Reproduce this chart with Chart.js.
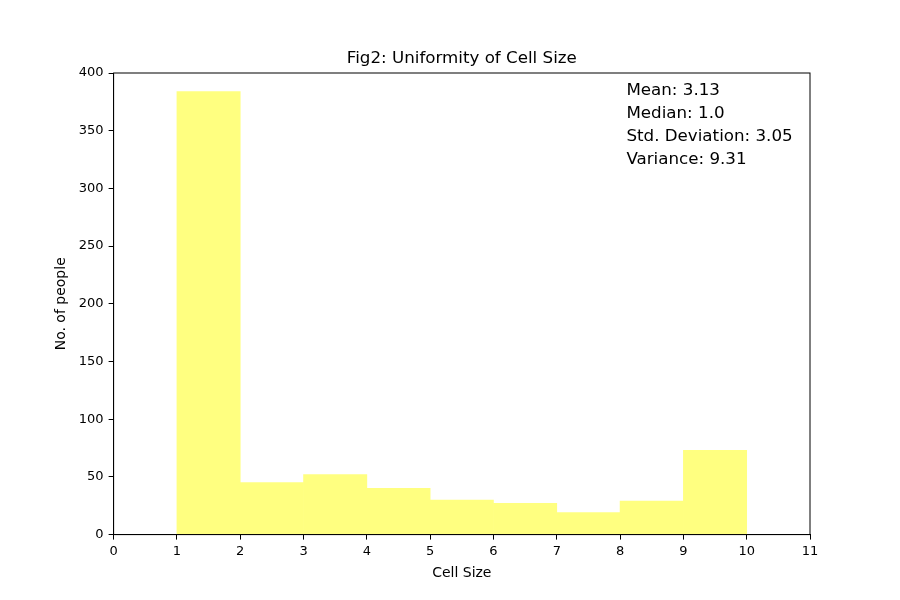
<!DOCTYPE html>
<html lang="en">
<head>
    <meta charset="UTF-8">
    <title>Fig2: Uniformity of Cell Size</title>
    <script src="https://cdn.jsdelivr.net/npm/chart.js"></script>
    <style>
        body { margin: 0; background: #fff; }
        .chart-container { width: 900px; height: 600px; }
    </style>
</head>
<body>
    <div class="chart-container">
        <canvas id="histChart" width="900" height="600"></canvas>
    </div>

    <script>
        // histogram bins (left edges) and counts
        const binStarts = [1, 2, 3, 4, 5, 6, 7, 8, 9];
        const binCounts = [384, 45, 52, 40, 30, 27, 19, 29, 73];
        const xTicks = [0, 1, 2, 3, 4, 5, 6, 7, 8, 9, 10, 11];
        const yTicks = [0, 50, 100, 150, 200, 250, 300, 350, 400];
        const statLines = ['Mean: 3.13', 'Median: 1.0', 'Std. Deviation: 3.05', 'Variance: 9.31'];
        const chartTitle = 'Fig2: Uniformity of Cell Size';

        Chart.defaults.font.family = '"DejaVu Sans", sans-serif';
        Chart.defaults.color = '#000';

        // frame around the plot area, title centred over it, stats text
        const framePlugin = {
            id: 'frame',
            afterDraw(chart) {
                const { ctx, chartArea, scales } = chart;
                ctx.save();
                ctx.strokeStyle = '#000';
                ctx.lineWidth = 1;
                ctx.strokeRect(chartArea.left, chartArea.top,
                    chartArea.right - chartArea.left, chartArea.bottom - chartArea.top);

                ctx.fillStyle = '#000';
                ctx.font = '16.7px "DejaVu Sans", sans-serif';
                ctx.textAlign = 'center';
                ctx.textBaseline = 'middle';
                ctx.fillText(chartTitle, (chartArea.left + chartArea.right) / 2, chartArea.top - 14);

                ctx.textAlign = 'left';
                const x = scales.x.getPixelForValue(8.1);
                const y0 = scales.y.getPixelForValue(385);
                statLines.forEach((t, i) => ctx.fillText(t, x, y0 + i * 23));
                ctx.restore();
            }
        };

        new Chart(document.getElementById('histChart'), {
            type: 'bar',
            data: {
                datasets: [{
                    data: binStarts.map((s, i) => ({ x: s + 0.5, y: binCounts[i] })),
                    backgroundColor: 'rgb(255, 255, 128)',
                    borderWidth: 0,
                    barPercentage: 1,
                    categoryPercentage: 1
                }]
            },
            options: {
                responsive: false,
                animation: false,
                layout: { padding: { top: 73, left: 49, right: 90, bottom: 14 } },
                plugins: {
                    legend: { display: false },
                    tooltip: { enabled: false },
                    title: { display: false }
                },
                scales: {
                    x: {
                        type: 'linear',
                        min: 0,
                        max: 11,
                        offset: false,
                        afterBuildTicks: axis => { axis.ticks = xTicks.map(v => ({ value: v })); },
                        ticks: { autoSkip: false, font: { size: 13 }, maxRotation: 0, padding: 4 },
                        grid: { offset: false, drawOnChartArea: false, tickLength: 5, color: '#000' },
                        border: { color: '#000' },
                        title: { display: true, text: 'Cell Size', font: { size: 14 }, padding: { top: 2 } }
                    },
                    y: {
                        min: 0,
                        max: 400,
                        afterBuildTicks: axis => { axis.ticks = yTicks.map(v => ({ value: v })); },
                        ticks: { autoSkip: false, font: { size: 13 }, padding: 5 },
                        grid: { offset: false, drawOnChartArea: false, tickLength: 5, color: '#000' },
                        border: { color: '#000' },
                        title: { display: true, text: 'No. of people', font: { size: 14 } }
                    }
                }
            },
            plugins: [framePlugin]
        });
    </script>
</body>
</html>
